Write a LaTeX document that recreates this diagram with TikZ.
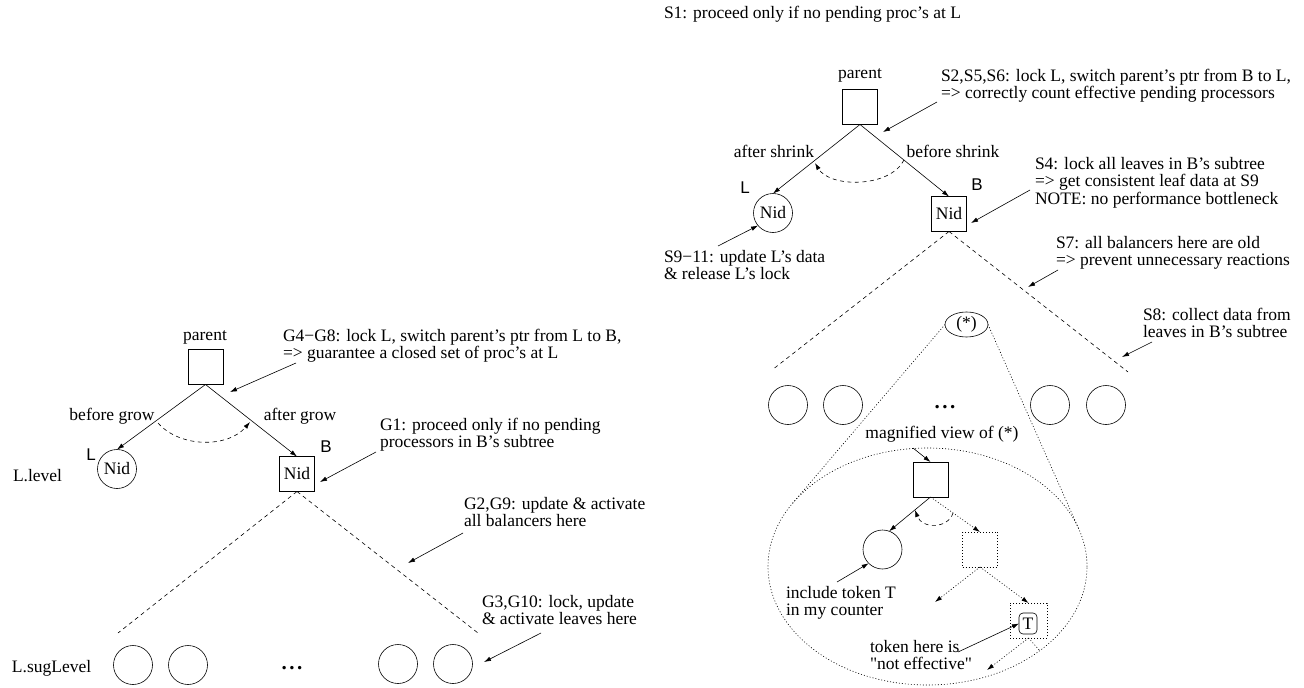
\documentclass[tikz,border=0pt]{standalone}
\usepackage{fontspec}
\setmainfont{Liberation Serif}
\newfontfamily\labfont{Liberation Sans}
\newcommand\straightquote{\XeTeXglyph\XeTeXcharglyph"22\relax}
\usetikzlibrary{arrows.meta,shapes.geometric}
\begin{document}
\begin{tikzpicture}[x=1pt,y=-1pt,line width=0.6pt,
  every node/.style={inner sep=0pt,outer sep=0pt},
  fnt/.style={font=\fontsize{17.5}{17.5}\selectfont},
  lbl/.style={font=\labfont\fontsize{17}{17}\selectfont},
  note/.style={fnt,align=left,anchor=north west},
  dotsnode/.style={font=\fontsize{21}{21}\selectfont\bfseries},
  arr/.style={-{Latex[length=7pt,width=4.5pt]}},
  sq/.style={draw,minimum width=35pt,minimum height=35pt,fnt},
  rnd/.style={draw,circle,minimum size=39pt,fnt},
  dsh/.style={dash pattern=on 4pt off 3.5pt},
  dtt/.style={dash pattern=on 1pt off 2pt},
]
\useasboundingbox (0,0) rectangle (1304,688);

% ---------------- left: grow ----------------
\node[fnt] (lpt) at (205,337) {parent};
\node[sq] (lp) at (205.5,367) {};
\node[rnd] (lL) at (117,469) {Nid};
\node[sq] (lB) at (297,474) {Nid};
\node[lbl] (lLl) at (91,455) {L};
\node[lbl] (lBl) at (326,447) {B};
\node[fnt,anchor=west] (llev) at (13,476) {L.level};
\node[fnt] (lbg) at (112,416) {before grow};
\node[fnt] (lag) at (300,416) {after grow};
\draw[arr] (lp.south) -- (lL.north);
\draw[arr] (lp.south) -- (lB.north);
\coordinate (la1) at (158,423);
\coordinate (la2) at (250,422);
\draw[arr,dsh] (la1) .. controls (180,448) and (228,448) .. (la2);

\node[note] (g48) at (283,329) {G4−G8: lock L, switch parent's ptr from L to B,\\=> guarantee a closed set of proc's at L};
\coordinate (g48s) at (296,363); \coordinate (g48e) at (230,392);
\draw[arr] (g48s) -- (g48e);

\node[note] (g1) at (380,418) {G1: proceed only if no pending\\processors in B's subtree};
\coordinate (g1s) at (376,452); \coordinate (g1e) at (320,482);
\draw[arr] (g1s) -- (g1e);

\coordinate (ldl) at (118,633); \coordinate (ldr) at (478,633);
\draw[dsh] (lB.south) -- (ldl);
\draw[dsh] (lB.south) -- (ldr);

\node[note] (g2) at (464,497) {G2,G9: update \& activate\\all balancers here};
\coordinate (g2s) at (463,533); \coordinate (g2e) at (408,563);
\draw[arr] (g2s) -- (g2e);

\node[note] (g3) at (482,595) {G3,G10: lock, update\\\& activate leaves here};
\coordinate (g3s) at (541,633); \coordinate (g3e) at (484,662);
\draw[arr] (g3s) -- (g3e);

\node[rnd] (lf1) at (133,665) {};
\node[rnd] (lf2) at (188,665) {};
\node[rnd] (lf3) at (398,664) {};
\node[rnd] (lf4) at (453,664) {};
\node[dotsnode] (ldots) at (292,668) {.\hspace{2.5pt}.\hspace{2.5pt}.};
\node[fnt,anchor=west] (lsug) at (12,668) {L.sugLevel};

% ---------------- right: shrink ----------------
\node[fnt,anchor=west] (s1) at (664,14) {S1: proceed only if no pending proc's at L};
\node[fnt] (rpt) at (860,75) {parent};
\node[sq] (rp) at (860,107) {};
\node[note] (s2) at (941,69) {S2,S5,S6: lock L, switch parent's ptr from B to L,\\=> correctly count effective pending processors};
\coordinate (s2s) at (937,102); \coordinate (s2e) at (883,132);
\draw[arr] (s2s) -- (s2e);

\node[fnt] (ras) at (774,151) {after shrink};
\node[fnt] (rbs) at (953,151) {before shrink};
\node[rnd] (rL) at (773,213) {Nid};
\node[lbl] (rLl) at (745,188) {L};
\node[sq] (rB) at (949,214) {Nid};
\node[lbl] (rBl) at (977,185) {B};
\draw[arr] (rp.south) -- (rL.north);
\draw[arr] (rp.south) -- (rB.north);
\coordinate (ra1) at (904,160);
\coordinate (ra2) at (815,163);
\draw[arr,dsh] (ra1) .. controls (890,188) and (830,188) .. (ra2);

\node[note] (s4) at (1035,157) {S4: lock all leaves in B's subtree\\=> get consistent leaf data at S9\\NOTE: no performance bottleneck};
\coordinate (s4s) at (1030,190); \coordinate (s4e) at (971,223);
\draw[arr] (s4s) -- (s4e);

\node[note] (s9) at (664,250) {S9−11: update L's data\\\& release L's lock};
\coordinate (s9s) at (718,246);
\draw[arr] (s9s) -- (rL.220);

\coordinate (rdl) at (772,370); \coordinate (rdr) at (1128,372);
\draw[dsh] (rB.south) -- (rdl);
\draw[dsh] (rB.south) -- (rdr);

\node[note] (s7) at (1056,236) {S7: all balancers here are old\\=> prevent unnecessary reactions};
\coordinate (s7s) at (1058,270); \coordinate (s7e) at (1028,287);
\draw[arr] (s7s) -- (s7e);

\node[note] (s8) at (1143,308) {S8: collect data from\\leaves in B's subtree};
\coordinate (s8s) at (1152,342); \coordinate (s8e) at (1122,357);
\draw[arr] (s8s) -- (s8e);

\node[draw,ellipse,minimum width=43pt,minimum height=25pt,fnt] (star) at (966.5,324.5) {(*)};
\node[rnd] (rf1) at (788,405) {};
\node[rnd] (rf2) at (843,405) {};
\node[rnd] (rf3) at (1050,405) {};
\node[rnd] (rf4) at (1106,405) {};
\node[dotsnode] (rdots) at (945,407) {.\hspace{2.5pt}.\hspace{2.5pt}.};

% magnified view
\node[draw,dtt,ellipse,minimum width=319pt,minimum height=237pt] (big) at (927.5,566.5) {};
\coordinate (tl) at (792.7,503.2);
\coordinate (tr) at (1079,529.5);
\draw[dtt] (star.west) -- (tl);
\draw[dtt] (star.east) -- (tr);

\node[fnt] (mag) at (942,434) {magnified view of (*)};
\node[sq] (mb) at (930.5,479.5) {};
\coordinate (mags) at (913,448);
\draw[arr] (mags) -- (mb.north);
\node[rnd] (mc) at (882.5,549.5) {};
\node[sq,dtt] (md) at (980,549.5) {};
\draw[arr] (mb.south) -- (mc.70);
\draw[arr,dtt] (mb.south) -- (md.north);
\coordinate (ma1) at (953,513);
\coordinate (ma2) at (915,510);
\draw[arr,dsh] (ma1) .. controls (948,529) and (922,529) .. (ma2);

\node[draw,dtt,minimum width=37pt,minimum height=35pt] (me) at (1028.5,620.5) {};
\node[draw,rounded corners=4pt,minimum width=18pt,minimum height=21pt,fnt] (tk) at (1028,623.5) {T};
\coordinate (mdl) at (935,602);
\draw[arr,dtt] (md.south) -- (mdl);
\draw[arr,dtt] (md.south) -- (me.north);
\coordinate (mel) at (987,670);
\coordinate (mer) at (1040,651);
\draw[arr,dtt] (me.south) -- (mel);
\draw[dtt] (me.south) -- (mer);

\node[note] (inc) at (786,586) {include token T\\in my counter};
\coordinate (incs) at (837,582);
\draw[arr] (incs) -- (mc.225);

\node[note] (tok) at (870,640) {token here is\\\straightquote not effective\straightquote};
\coordinate (toks) at (958,652);
\draw[arr] (toks) -- (tk.west);
\end{tikzpicture}
\end{document}
